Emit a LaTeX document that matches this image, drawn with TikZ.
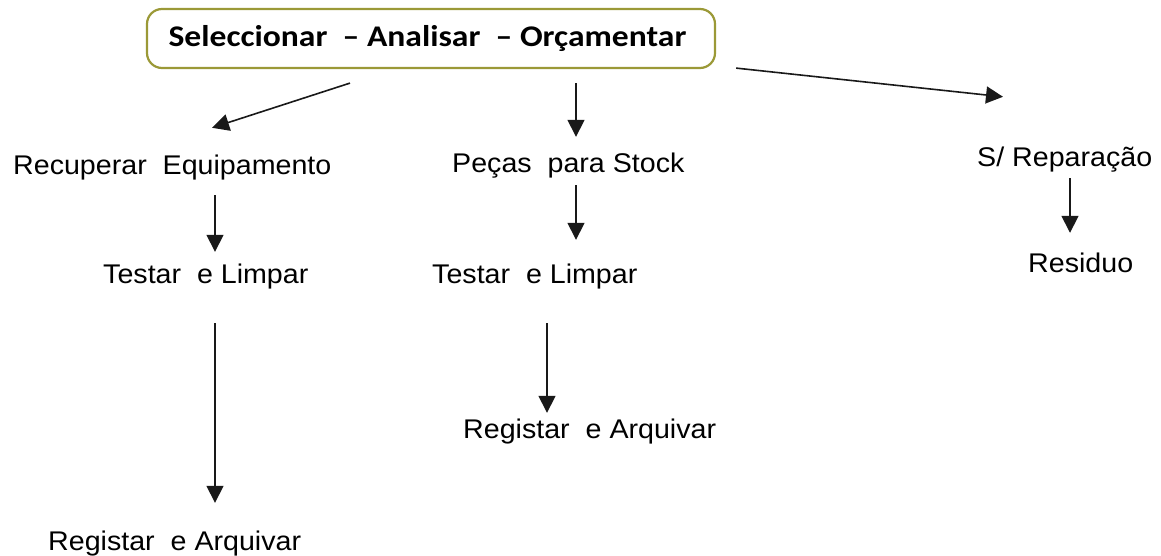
\documentclass[tikz,border=0pt]{standalone}
\usepackage{fontspec}
\setmainfont{Liberation Sans}
\newfontfamily\arialw[FakeStretch=1.06]{Liberation Sans}
\newfontfamily\calw[FakeStretch=1.12]{Carlito}
\usetikzlibrary{arrows.meta}
\definecolor{boxolive}{RGB}{155,153,55}
\tikzset{
  lbl/.style={inner sep=0pt, anchor=base west, text height=19pt, text depth=6pt,
    font=\arialw\fontsize{27}{32}\selectfont, text=black},
  topbox/.style={draw=boxolive, line width=2.2pt, rounded corners=15pt,
    minimum width=568pt, minimum height=59pt, inner sep=0pt,
    font=\calw\bfseries\fontsize{30}{35}\selectfont, text=black},
  arr/.style={line width=1.6pt, draw=black!90,
    -{Triangle[width=17pt,length=17pt]}}
}
\begin{document}
\begin{tikzpicture}[x=1pt,y=-1pt]
\useasboundingbox (0,0) rectangle (1161,556);
\node[topbox] (box) at (431,38.5) {\hspace*{-7pt}Seleccionar~ – Analisar~ – Orçamentar};
\node[lbl] (rec) at (13,175) {Recuperar~ Equipamento};
\node[lbl] (pec) at (452,173) {Peças~ para Stock};
\node[lbl] (srep) at (977,167) {S/ Reparação};
\node[lbl] (tl1) at (103,283) {Testar~ e Limpar};
\node[lbl] (tl2) at (432,283) {Testar~ e Limpar};
\node[lbl] (res) at (1028,272) {Residuo};
\node[lbl] (reg1) at (48,550) {Registar~ e Arquivar};
\node[lbl] (reg2) at (463,438) {Registar~ e Arquivar};

\draw[arr] ([shift={(-81,14)}]box.south) -- ([shift={(199,-28)}]rec.north west);
\draw[arr] ([shift={(145,14)}]box.south) -- ([shift={(124,-17)}]pec.north west);
\draw[arr] ([shift={(20,-1)}]box.south east) -- ([shift={(26,-51)}]srep.north west);
\draw[arr] ([shift={(202,14)}]rec.south west) -- ([shift={(112,-12)}]tl1.north west);
\draw[arr] ([shift={(124,6)}]pec.south west) -- ([shift={(144,-24)}]tl2.north west);
\draw[arr] ([shift={(93,5)}]srep.south west) -- ([shift={(42,-20)}]res.north west);
\draw[arr] ([shift={(112,34)}]tl1.south west) -- ([shift={(167,-28)}]reg1.north west);
\draw[arr] ([shift={(115,34)}]tl2.south west) -- ([shift={(84,-6)}]reg2.north west);
\end{tikzpicture}
\end{document}
